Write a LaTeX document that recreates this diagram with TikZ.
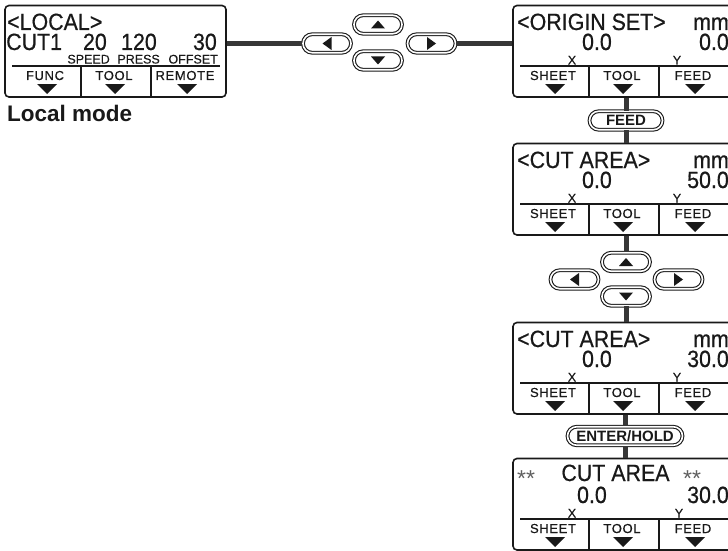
\documentclass[tikz,border=0pt]{standalone}
\usepackage{fontspec}
\setmainfont{Liberation Sans}
\newfontfamily\lcdfont[FakeStretch=0.91,FakeBold=0.6]{Liberation Sans}
\newfontfamily\keyfont[LetterSpace=5,FakeBold=0.5]{Liberation Sans}
\newfontfamily\tagfont[FakeBold=0.4]{Liberation Sans}
\usetikzlibrary{shapes.misc}
\definecolor{conncol}{RGB}{55,55,55}
\definecolor{ink}{RGB}{25,25,25}
\tikzset{
  panel/.style={draw=ink, line width=1.6pt, rounded corners=4pt, fill=white,
    minimum width=221pt, minimum height=91.5pt, inner sep=0pt},
  divider/.style={draw=ink, line width=1.3pt},
  connector/.style={draw=conncol, line width=5pt},
  keybtn/.style={rounded rectangle, draw=ink, double=white, double distance=1.6pt,
    line width=1.1pt, minimum width=48pt, minimum height=18.5pt, inner sep=0pt},
  txtbtn/.style={keybtn, font=\bfseries\fontsize{15}{15}\selectfont, text=ink},
  big/.style={font=\lcdfont\fontsize{23.5}{23.5}\selectfont, inner sep=0pt, text=ink,
    text height=16.5pt, text depth=0pt},
  small/.style={font=\keyfont\fontsize{13}{13}\selectfont, inner sep=0pt, text=ink,
    text height=9pt, text depth=0pt},
  tag/.style={font=\tagfont\fontsize{12.5}{12.5}\selectfont, inner sep=0pt, text=ink,
    text height=9pt, text depth=0pt},
  stars/.style={font=\fontsize{23}{23}\selectfont, inner sep=0pt, text=gray!75!black,
    text height=16pt, text depth=0pt},
}
\newcommand\lcdpanel[6]{%
  \node[panel] (#1) at (#2+110.5,#3+46.25) {};
  \draw[divider] (#2+7,#3+61) -- (#2+215,#3+61);
  \draw[divider] (#2+76,#3+61) -- (#2+76,#3+91);
  \draw[divider] (#2+146,#3+61) -- (#2+146,#3+91);
  \foreach \cx in {42,110,182}{\fill[ink] (#2+\cx-10,#3+79) -- (#2+\cx+10,#3+79) -- (#2+\cx,#3+89) -- cycle;}
  \node[small, anchor=base] at (#2+40,#3+75) {#4};
  \node[small, anchor=base] at (#2+109,#3+75) {#5};
  \node[small, anchor=base] at (#2+180,#3+75) {#6};
}
\newcommand\uptri[1]{\fill[ink,shift={(#1.center)}] (-7,4) -- (7,4) -- (0,-4) -- cycle;}
\newcommand\dntri[1]{\fill[ink,shift={(#1.center)}] (-7,-4) -- (7,-4) -- (0,4) -- cycle;}
\newcommand\lftri[1]{\fill[ink,shift={(#1.center)}] (4.5,-6.5) -- (4.5,6.5) -- (-4.5,0) -- cycle;}
\newcommand\rttri[1]{\fill[ink,shift={(#1.center)}] (-4.5,-6.5) -- (-4.5,6.5) -- (4.5,0) -- cycle;}
\begin{document}
\begin{tikzpicture}[x=1pt,y=-1pt]
\useasboundingbox (0,0) rectangle (728,551);
\begin{scope}
\clip (0,0) rectangle (728,551);
% ---- local panel
\lcdpanel{local}{5}{5}{FUNC}{TOOL}{REMOTE}
\node[big, anchor=base west] at (7,30) {<LOCAL>};
\node[big, anchor=base west] at (6,50) {CUT1};
\node[big, anchor=base east] at (107,50) {20};
\node[big, anchor=base east] at (157,50) {120};
\node[big, anchor=base east] at (217,50) {30};
\node[tag, anchor=base east] at (110,63.5) {SPEED};
\node[tag, anchor=base east] at (160,63.5) {PRESS};
\node[tag, anchor=base east] at (218,63.5) {OFFSET};
\node[anchor=base west, font=\bfseries\fontsize{22.5}{22.5}\selectfont, inner sep=0pt, text=ink] (lm) at (7,121) {Local mode};
% ---- top key cluster
\node[keybtn] (lbtn) at (327,43.5) {};
\node[keybtn] (ubtn) at (378,24.5) {};
\node[keybtn] (dbtn) at (378,60.5) {};
\node[keybtn] (rbtn) at (431.5,43.5) {};
\lftri{lbtn}\uptri{ubtn}\dntri{dbtn}\rttri{rbtn}
% ---- origin panel
\lcdpanel{origin}{513}{5}{SHEET}{TOOL}{FEED}
\node[big, anchor=base west] at (517,30) {<ORIGIN SET>};
\node[big, anchor=base east] at (729,30) {mm};
\node[big, anchor=base east] at (612,50) {0.0};
\node[big, anchor=base east] at (729,50) {0.0};
\node[tag, anchor=base] at (572,64.5) {X};
\node[tag, anchor=base] at (677,64.5) {Y};
% ---- FEED key
\node[txtbtn, minimum width=73pt] (feed) at (626,120.5) {FEED};
% ---- panel 2
\lcdpanel{ptwo}{513}{143}{SHEET}{TOOL}{FEED}
\node[big, anchor=base west] at (517,168) {<CUT AREA>};
\node[big, anchor=base east] at (729,168) {mm};
\node[big, anchor=base east] at (612,188) {0.0};
\node[big, anchor=base east] at (729,188) {50.0};
\node[tag, anchor=base] at (572,202.5) {X};
\node[tag, anchor=base] at (677,202.5) {Y};
% ---- middle key cluster
\node[keybtn] (ubtn2) at (626,262) {};
\node[keybtn] (dbtn2) at (626,296.5) {};
\node[keybtn] (lbtn2) at (574.5,279.5) {};
\node[keybtn] (rbtn2) at (678.5,279.5) {};
\uptri{ubtn2}\dntri{dbtn2}\lftri{lbtn2}\rttri{rbtn2}
% ---- panel 3
\lcdpanel{pthree}{513}{322}{SHEET}{TOOL}{FEED}
\node[big, anchor=base west] at (517,347) {<CUT AREA>};
\node[big, anchor=base east] at (729,347) {mm};
\node[big, anchor=base east] at (612,367) {0.0};
\node[big, anchor=base east] at (729,367) {30.0};
\node[tag, anchor=base] at (572,381.5) {X};
\node[tag, anchor=base] at (677,381.5) {Y};
% ---- ENTER/HOLD key
\node[txtbtn, minimum width=115pt] (enter) at (625,436) {ENTER/HOLD};
% ---- panel 4
\lcdpanel{pfour}{513}{458}{SHEET}{TOOL}{FEED}
\node[stars, anchor=base west] at (517,486) {**};
\node[big, anchor=base] at (615.5,481) {CUT AREA};
\node[stars, anchor=base west] at (683,486) {**};
\node[big, anchor=base east] at (607,503) {0.0};
\node[big, anchor=base east] at (729,503) {30.0};
\node[tag, anchor=base] at (572,517.5) {X};
\node[tag, anchor=base] at (679,517.5) {Y};
% ---- connectors
\draw[connector] (local.east |- lbtn) -- (lbtn.west);
\draw[connector] (rbtn.east) -- (rbtn.east -| origin.west);
\draw[connector] (origin.south -| feed) -- (feed.north);
\draw[connector] (feed.south) -- (feed.south |- ptwo.north);
\draw[connector] (ptwo.south -| ubtn2) -- (ubtn2.north);
\draw[connector] (dbtn2.south) -- (dbtn2.south |- pthree.north);
\draw[connector] (pthree.south -| enter) -- (enter.north);
\draw[connector] (enter.south) -- (enter.south |- pfour.north);
\end{scope}
\end{tikzpicture}
\end{document}
